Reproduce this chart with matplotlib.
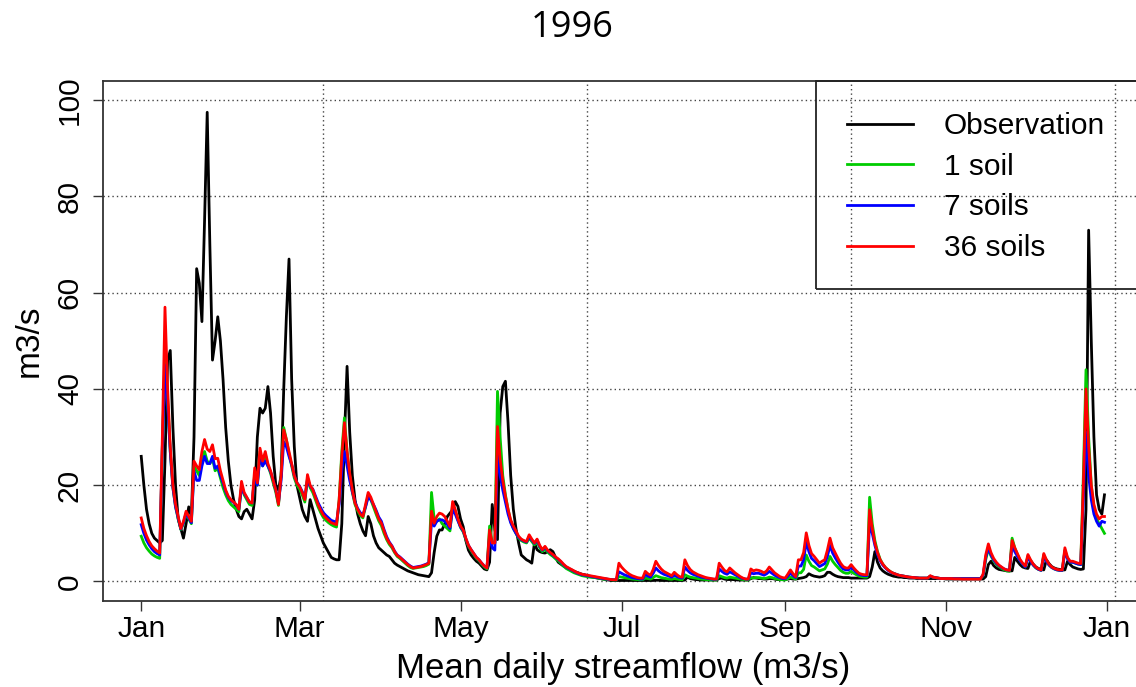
import numpy as np
import pandas as pd
import matplotlib
matplotlib.use("Agg")
import matplotlib.pyplot as plt
import matplotlib.dates as mdates
from matplotlib.patches import Rectangle

# ---------------- data (daily mean streamflow, m3/s, 1996) ----------------
year_start = "1996-01-01"
n_days = 366

observation = [
    # Jan
    26, 20, 15, 12, 10, 9, 8.5, 8, 8.5, 25, 46, 48, 32, 20, 13, 11, 9, 12, 15.5, 13.5,
    30, 65, 62, 54, 75, 97.5, 70, 46, 50, 55, 50,
    # Feb
    42, 32, 25, 20, 17, 15, 13.5, 13, 14.5, 15, 14, 13, 17, 30, 36, 35, 36, 40.5, 35, 26,
    20, 19, 22, 40, 55, 67, 42, 28, 20,
    # Mar
    17.5, 15, 13.5, 12.5, 17, 15, 13, 11, 9.5, 8, 7, 6, 5, 4.7, 4.5, 4.5, 12, 30, 44.7, 31,
    22, 17, 14, 12, 10.5, 9.5, 13.5, 12, 9.5, 8, 7,
    # Apr
    6.5, 6, 5.5, 5.2, 4.5, 3.8, 3.4, 3.1, 2.8, 2.5, 2.2, 2, 1.8, 1.6, 1.4, 1.3, 1.2, 1.1, 1, 1.8,
    6, 9.4, 10.7, 10.7, 12, 13.5, 14.2, 14.9, 16.6, 15.6,
    # May
    13, 11.4, 8.5, 6.5, 5.5, 4.8, 4.2, 3.8, 3.2, 2.6, 2.4, 4, 16, 10.7, 8.7, 35, 40.5, 41.6, 33, 22,
    15, 11, 8, 5.5, 5, 4.5, 4.2, 3.8, 8, 6.6, 6.2,
    # Jun
    6, 5.9, 6.2, 6.6, 6.2, 5, 4, 3.6, 3.2, 2.9, 2.6, 2.4, 2.1, 1.9, 1.7, 1.5, 1.4, 1.2, 1.0, 0.9,
    0.8, 0.7, 0.6, 0.5, 0.4, 0.3, 0.2, 0.2, 0.2, 0.2,
    # Jul
    0.2, 0.2, 0.2, 0.2, 0.2, 0.2, 0.2, 0.2, 0.2, 0.2, 0.2, 0.2, 0.2, 0.25, 0.25, 0.2, 0.2, 0.2, 0.2, 0.2,
    0.2, 0.2, 0.2, 0.2, 0.3, 0.9, 0.6, 0.5, 0.4, 0.35, 0.3,
    # Aug
    0.3, 0.3, 0.3, 0.3, 0.3, 0.3, 0.6, 0.7, 0.5, 0.4, 0.4, 0.4, 0.35, 0.3, 0.3, 0.3, 0.3, 0.3, 0.6, 0.8,
    0.7, 0.6, 0.6, 0.5, 0.5, 0.6, 0.6, 0.5, 0.4, 0.4, 0.4,
    # Sep
    0.4, 0.5, 0.6, 0.5, 0.5, 0.6, 0.7, 0.8, 1.0, 1.6, 1.3, 1.1, 1.0, 0.9, 1.0, 1.2, 1.9, 1.9, 1.5, 1.2,
    1.0, 0.9, 0.8, 0.8, 0.8, 0.7, 0.7, 0.7, 0.7, 0.7,
    # Oct
    0.7, 0.7, 1.0, 3, 6.2, 4, 2.8, 2.2, 1.8, 1.5, 1.3, 1.1, 1.0, 0.9, 0.9, 0.8, 0.8, 0.7, 0.7, 0.7,
    0.6, 0.6, 0.6, 0.6, 0.6, 0.6, 0.6, 0.6, 0.6, 0.6, 0.6,
    # Nov
    0.5, 0.5, 0.5, 0.5, 0.5, 0.5, 0.5, 0.5, 0.5, 0.5, 0.5, 0.5, 0.5, 0.5, 0.5, 1.0, 3.5, 4.2, 3.3, 2.8,
    2.5, 2.4, 2.3, 2.2, 2.2, 2.2, 5, 4.2, 3.5, 3.0,
    # Dec
    2.8, 2.7, 4.3, 3.6, 3.0, 2.7, 2.5, 2.4, 4.5, 3.7, 3.1, 2.8, 2.6, 2.5, 2.4, 2.4, 4.2, 3.5, 3.0, 2.8,
    2.6, 2.5, 2.6, 15, 73, 50, 30, 18, 15, 14, 18,
]

soil_1 = [
    # Jan
    9.4, 8.0, 7.0, 6.3, 5.7, 5.3, 5.0, 4.8, 28, 47, 38, 27, 19.5, 15.5, 13, 10.8, 12, 14, 13, 12,
    24, 23, 22, 25.5, 27, 25, 24.5, 25.5, 23, 23.5, 21.5,
    # Feb
    19.5, 18, 16.8, 16, 15.5, 15, 14.5, 20, 18, 17, 16, 15.8, 22.5, 20, 27, 24, 26.5, 24, 22.5, 20.5,
    18.5, 15.8, 22, 32, 29.5, 26.5, 24, 21.5, 20,
    # Mar
    19.2, 18, 16.5, 21.5, 19.5, 18.5, 17, 15.5, 14.3, 13.3, 12.7, 12.2, 11.8, 11.5, 11.3, 17, 27, 34, 27, 22,
    18.5, 16, 14.7, 13.7, 13.2, 15.5, 18, 17, 15.5, 14, 12.6,
    # Apr
    11.6, 10, 8.7, 7.7, 7.0, 6.0, 5.2, 4.8, 4.3, 3.8, 3.3, 2.9, 2.7, 2.8, 2.9, 3.0, 3.1, 3.3, 3.6, 18.5,
    13, 12.5, 13, 12, 11.5, 11, 10.5, 16, 14.5, 12.8,
    # May
    11.2, 10.3, 8.7, 7.3, 6.4, 5.6, 4.8, 4.3, 3.6, 3.0, 2.6, 11.5, 8, 8, 39.5, 30, 22, 18, 15, 12.5,
    11, 10, 9, 8.5, 8.2, 8, 9, 8.3, 7.6, 8.3, 7,
    # Jun
    6.2, 6.8, 6.1, 5.6, 5.2, 4.7, 4.3, 3.8, 3.2, 2.7, 2.4, 2.1, 1.8, 1.6, 1.4, 1.2, 1.1, 1.0, 0.9, 0.85,
    0.8, 0.7, 0.6, 0.5, 0.45, 0.4, 0.35, 0.3, 0.3, 1.0,
    # Jul
    0.9, 0.8, 0.7, 0.6, 0.5, 0.45, 0.4, 0.35, 0.35, 0.7, 0.6, 0.5, 0.8, 1.2, 1.0, 0.8, 0.7, 0.6, 0.5, 0.45,
    0.6, 0.5, 0.4, 0.35, 1.4, 1.1, 0.9, 0.8, 0.7, 0.6, 0.5,
    # Aug
    0.45, 0.4, 0.35, 0.3, 0.3, 0.3, 1.2, 1.0, 0.8, 0.7, 0.9, 0.8, 0.7, 0.6, 0.5, 0.4, 0.3, 0.3, 0.8, 0.7,
    0.8, 0.8, 0.7, 0.6, 0.7, 0.9, 0.8, 0.6, 0.5, 0.4, 0.35,
    # Sep
    0.3, 0.6, 0.9, 0.7, 0.5, 1.8, 1.8, 2.5, 5.5, 4.2, 3.3, 3.0, 2.6, 2.2, 2.4, 2.6, 3.6, 5.2, 4.2, 3.5,
    2.9, 2.3, 1.9, 1.7, 1.7, 2.1, 1.7, 1.4, 1.1, 1.0,
    # Oct
    0.9, 0.9, 17.5, 12, 8.5, 6.2, 4.6, 3.6, 2.9, 2.4, 2.0, 1.7, 1.5, 1.3, 1.2, 1.1, 1.0, 0.9, 0.85, 0.8,
    0.75, 0.7, 0.7, 0.7, 0.7, 1.1, 0.9, 0.8, 0.7, 0.6, 0.6,
    # Nov
    0.6, 0.6, 0.6, 0.6, 0.6, 0.6, 0.6, 0.6, 0.6, 0.6, 0.6, 0.6, 0.6, 0.6, 1.2, 4.5, 6.8, 5.3, 4.3, 3.6,
    3.1, 2.7, 2.4, 2.2, 2.1, 9, 7, 5.6, 4.4, 3.6,
    # Dec
    3.0, 5.3, 4.3, 3.4, 2.8, 2.5, 2.3, 5.5, 4.3, 3.4, 2.9, 2.6, 2.4, 2.3, 2.3, 6.5, 4.8, 4, 4, 3.8,
    3.6, 3.5, 22, 44, 30, 20, 15.5, 13, 12, 11, 10,
]

soil_7 = [
    # Jan
    11.8, 10, 8.6, 7.6, 6.8, 6.2, 5.8, 5.5, 28, 45, 37, 27, 19.5, 15.5, 13.2, 10.9, 12.2, 14.2, 13.2, 12.2,
    23, 21, 21, 24, 26, 24.5, 24.5, 26, 23.5, 24, 22,
    # Feb
    20.5, 18.7, 17.5, 16.8, 16.4, 15.9, 15, 19.5, 18.3, 17.4, 16.5, 16.3, 22, 20, 26, 24, 25, 24, 22.8, 21,
    19, 16.3, 21, 29, 28, 26, 24.3, 22, 20.5,
    # Mar
    19.8, 18.7, 17.3, 21.2, 19.8, 19.2, 17.8, 16.4, 15.3, 14.3, 13.7, 13.2, 12.7, 12.5, 12.3, 16, 23, 27, 24, 21,
    18.6, 16.5, 15.2, 14.3, 13.8, 15.5, 17.5, 17, 16, 14.8, 13.4,
    # Apr
    12.5, 10.8, 9.3, 8.2, 7.4, 6.3, 5.5, 5.1, 4.6, 4.1, 3.6, 3.2, 2.9, 3.0, 3.1, 3.2, 3.4, 3.6, 3.9, 12.5,
    11.5, 12.5, 12.8, 12.8, 12.5, 11.8, 11, 15, 14, 12.6,
    # May
    11.3, 10.5, 8.9, 7.5, 6.6, 5.8, 5.0, 4.5, 3.8, 3.2, 2.8, 9.5, 7, 6.5, 27, 22, 19, 16.5, 14, 12.2,
    11, 10, 9.2, 8.7, 8.4, 8.2, 9.3, 8.6, 7.9, 8.6, 7.3,
    # Jun
    6.5, 7.1, 6.4, 5.9, 5.5, 5.0, 4.6, 4.1, 3.5, 3.0, 2.7, 2.4, 2.1, 1.8, 1.6, 1.4, 1.3, 1.2, 1.1, 1.0,
    0.9, 0.8, 0.7, 0.6, 0.55, 0.45, 0.4, 0.35, 0.35, 2.0,
    # Jul
    1.7, 1.4, 1.2, 1.0, 0.8, 0.7, 0.6, 0.5, 0.5, 1.4, 1.1, 0.9, 1.7, 2.8, 2.2, 1.8, 1.5, 1.3, 1.1, 0.9,
    1.3, 1.0, 0.8, 0.7, 3.0, 2.3, 1.8, 1.5, 1.3, 1.1, 0.9,
    # Aug
    0.8, 0.7, 0.6, 0.5, 0.45, 0.45, 2.6, 2.1, 1.7, 1.5, 2.0, 1.7, 1.4, 1.1, 0.8, 0.6, 0.5, 0.45, 1.8, 1.6,
    1.7, 1.7, 1.5, 1.3, 1.6, 2.1, 1.7, 1.3, 1.0, 0.8, 0.6,
    # Sep
    0.55, 1.1, 1.7, 1.2, 0.8, 3.2, 3.2, 4.5, 8.2, 6.2, 4.8, 4.3, 3.7, 3.1, 3.4, 3.7, 5.2, 7.5, 5.9, 4.9,
    4.0, 3.2, 2.6, 2.4, 2.4, 3.0, 2.4, 1.9, 1.5, 1.3,
    # Oct
    1.2, 1.2, 12, 10, 7.5, 5.6, 4.3, 3.4, 2.8, 2.3, 1.9, 1.7, 1.5, 1.3, 1.2, 1.1, 1.0, 0.9, 0.85, 0.8,
    0.75, 0.7, 0.7, 0.7, 0.7, 1.1, 0.9, 0.8, 0.7, 0.6, 0.6,
    # Nov
    0.6, 0.6, 0.6, 0.6, 0.6, 0.6, 0.6, 0.6, 0.6, 0.6, 0.6, 0.6, 0.6, 0.6, 1.3, 5, 7, 5.5, 4.5, 3.8,
    3.3, 2.9, 2.6, 2.4, 2.3, 7.5, 6.2, 5.2, 4.3, 3.6,
    # Dec
    3.0, 5.0, 4.2, 3.4, 2.9, 2.5, 2.3, 5.2, 4.2, 3.4, 2.9, 2.6, 2.4, 2.3, 2.3, 6.3, 4.7, 4.0, 4.0, 3.8,
    3.6, 3.5, 17, 31, 22, 17, 14, 12.5, 11.5, 12.5, 12.3,
]

soil_36 = [
    # Jan
    13.2, 11, 9.5, 8.3, 7.4, 6.8, 6.3, 5.9, 30, 57, 40, 28, 20, 16, 13.5, 11, 12.5, 14.6, 13.5, 12.5,
    25, 24, 23.2, 27, 29.5, 27.5, 27, 28.4, 25.5, 25.6, 23,
    # Feb
    21, 19, 17.7, 17, 16.5, 16, 15, 20.8, 18.5, 17.5, 16.5, 16.3, 23.6, 20.5, 27.7, 25, 27, 24.5, 23, 21,
    19, 16, 22, 31.5, 29.5, 27, 24.6, 22, 20.5,
    # Mar
    19.7, 18.5, 17, 22.2, 20, 19.1, 17.5, 16, 14.8, 13.8, 13.2, 12.7, 12.2, 12, 11.8, 17, 26, 33, 27, 22.5,
    19, 16.3, 15, 14, 13.5, 16, 18.5, 17.5, 16, 14.5, 13,
    # Apr
    12.1, 10.5, 9, 8, 7.3, 6.2, 5.4, 5, 4.5, 4, 3.5, 3.1, 2.8, 2.9, 3, 3.1, 3.3, 3.5, 3.8, 14.6,
    12.1, 13.5, 14.2, 14, 13.5, 12.5, 11.4, 16.6, 14.9, 13,
    # May
    11.5, 10.7, 9, 7.5, 6.6, 5.8, 5, 4.5, 3.8, 3.2, 2.8, 10.7, 8, 8, 32.2, 25.3, 21, 17.7, 15, 12.8,
    11.5, 10.5, 9.4, 8.8, 8.5, 8.3, 9.7, 8.8, 8, 8.8, 7.5,
    # Jun
    6.6, 7.3, 6.5, 6, 5.6, 5.1, 4.7, 4.2, 3.6, 3.1, 2.8, 2.5, 2.2, 1.9, 1.7, 1.5, 1.4, 1.3, 1.2, 1.1,
    1.0, 0.9, 0.8, 0.7, 0.6, 0.5, 0.4, 0.35, 0.35, 3.8,
    # Jul
    3.0, 2.4, 1.9, 1.5, 1.2, 1.0, 0.8, 0.7, 0.7, 2.1, 1.6, 1.3, 2.5, 4.2, 3.3, 2.6, 2.1, 1.8, 1.5, 1.2,
    1.9, 1.4, 1.0, 0.9, 4.5, 3.3, 2.5, 2.0, 1.7, 1.4, 1.2,
    # Aug
    1.0, 0.8, 0.7, 0.6, 0.5, 0.5, 3.8, 3.0, 2.3, 2.0, 2.8, 2.3, 1.8, 1.4, 1.0, 0.7, 0.5, 0.5, 2.6, 2.2,
    2.4, 2.3, 2.1, 1.8, 2.2, 3.0, 2.4, 1.8, 1.4, 1.0, 0.8,
    # Sep
    0.7, 1.5, 2.4, 1.6, 1.0, 4.5, 4.5, 6.0, 10.1, 7.5, 5.8, 5.2, 4.5, 3.8, 4.2, 4.5, 6.5, 9.0, 7.0, 5.9,
    4.8, 3.8, 3.1, 2.8, 2.8, 3.5, 2.8, 2.2, 1.7, 1.5,
    # Oct
    1.4, 1.4, 14.9, 11, 8, 6, 4.5, 3.6, 2.9, 2.4, 2.0, 1.7, 1.5, 1.3, 1.2, 1.1, 1.0, 0.9, 0.85, 0.8,
    0.75, 0.7, 0.7, 0.7, 0.7, 1.2, 0.9, 0.8, 0.7, 0.6, 0.6,
    # Nov
    0.6, 0.6, 0.6, 0.55, 0.55, 0.55, 0.5, 0.5, 0.5, 0.5, 0.5, 0.5, 0.5, 0.5, 1.5, 5.5, 7.8, 6, 4.8, 4,
    3.4, 3, 2.6, 2.4, 2.3, 8.5, 7, 5.8, 4.6, 3.8,
    # Dec
    3.2, 5.6, 4.5, 3.6, 3.0, 2.6, 2.4, 5.8, 4.5, 3.6, 3.0, 2.7, 2.5, 2.4, 2.4, 7, 5, 4.2, 4.2, 4,
    3.8, 3.7, 20, 40, 28, 20, 16, 14, 13, 13.5, 13.5,
]

series_labels = ["Observation", "1 soil", "7 soils", "36 soils"]
series_colors = ["black", "#00CC00", "#0000FF", "#FF0000"]
y_ticks = [0, 20, 40, 60, 80, 100]
title_text = "1996"
x_label = "Mean daily streamflow (m3/s)"
y_label = "m3/s"

for nm, s in zip(series_labels, [observation, soil_1, soil_7, soil_36]):
    if len(s) != n_days:
        raise SystemExit(f"{nm}: {len(s)} values")

dates = pd.date_range(year_start, periods=n_days, freq="D")

# ---------------- figure ----------------
W, H = 1136, 687
fig = plt.figure(figsize=(W / 100, H / 100), dpi=100)
base_font = "Liberation Sans"

ax_l, ax_r, ax_t, ax_b = 102.7, 1143.0, 81.0, 600.7
ax = fig.add_axes([ax_l / W, 1 - ax_b / H, (ax_r - ax_l) / W, (ax_b - ax_t) / H])

for vals, col, lab, z in zip([observation, soil_1, soil_7, soil_36], series_colors, series_labels, [3, 4, 5, 6]):
    ax.plot(dates, vals, color=col, lw=2.0, label=lab, zorder=z, solid_joinstyle="round")

pad = pd.Timedelta(days=365 * 0.04)
ax.set_xlim(dates[0] - pad, dates[-1] + pad)
ax.set_ylim(-4, 104)

# grid (dotted)
grid_kw = dict(color="#444444", lw=1.0, ls=(0, (1, 2.2)), zorder=1)
for yv in y_ticks:
    ax.axhline(yv, **grid_kw)
for off in [69, 169, 269, 369]:
    ax.axvline(dates[0] + pd.Timedelta(days=off), **grid_kw)

ax.xaxis.set_major_locator(mdates.MonthLocator(bymonth=[1, 3, 5, 7, 9, 11]))
ax.xaxis.set_major_formatter(mdates.DateFormatter("%b"))
ax.set_yticks(y_ticks)
ax.tick_params(axis="both", direction="out", length=7.5, width=1.0, color="#333333",
               labelsize=21.5)
ax.tick_params(axis="x", pad=3)
ax.tick_params(axis="y", pad=6)
for lbl in ax.get_yticklabels():
    lbl.set_rotation(90)
    lbl.set_va("center")
    lbl.set_family(base_font)
for lbl in ax.get_xticklabels():
    lbl.set_family(base_font)

for sp in ax.spines.values():
    sp.set_linewidth(1.3)
    sp.set_color("#333333")

ax.set_xlabel(x_label, fontsize=25, family=base_font, labelpad=6)
ax.set_ylabel(y_label, fontsize=24, family=base_font, labelpad=8)

# legend (transparent box at the top-right, like R's legend("topright"))
leg = ax.legend(loc="upper left", bbox_to_anchor=(815.7 / W, 1 - 81 / H),
                bbox_transform=fig.transFigure, frameon=False,
                prop={"family": base_font, "size": 21.5},
                handlelength=2.2, handletextpad=1.05, labelspacing=0.42,
                borderpad=0.55)
for h in leg.get_lines():
    h.set_linewidth(2.0)
fig.patches.append(Rectangle((815.7 / W, 1 - 289 / H), (1160 - 815.7) / W, (289 - 81) / H,
                             transform=fig.transFigure, fill=False, lw=1.3,
                             edgecolor="#222222", zorder=10))

fig.text(572 / W, 1 - 28 / H, title_text, ha="center", va="center",
         fontsize=26, family="Open Sans")

fig.savefig("out.png", dpi=100)
